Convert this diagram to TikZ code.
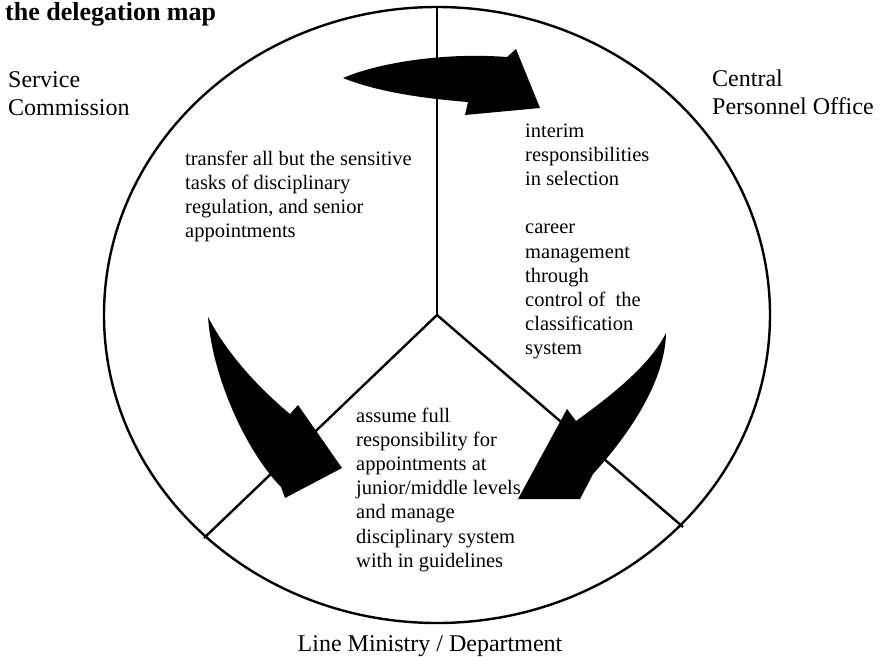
\documentclass[tikz,border=0pt]{standalone}
\usepackage{fontspec}
\setmainfont{Liberation Serif}
\begin{document}
\begin{tikzpicture}[x=1pt,y=-1pt,
  ring/.style={line width=2.4pt},
  spoke/.style={line width=2.4pt},
  bigarrow/.style={fill=black,draw=none},
  heading/.style={font=\bfseries\fontsize{26}{30}\selectfont, inner sep=0, anchor=base west},
  party/.style={font=\fontsize{24}{28}\selectfont, align=left, inner sep=0, anchor=base west},
  duty/.style={font=\fontsize{20.5}{24.2}\selectfont, align=left, inner sep=0, anchor=base west},
]
\useasboundingbox (0,0) rectangle (882,656);

% title
\node[heading] (title) at (5,20) {the delegation map};

% the ring and its three spokes
\coordinate (hub) at (437,315);
\coordinate (rimtop) at (437,7);
\coordinate (rimleft) at (204,538);
\coordinate (rimright) at (683,527);
\draw[ring] (hub) ellipse [x radius=333pt, y radius=308pt];
\draw[spoke] (hub) -- (rimtop);
\draw[spoke] (hub) -- (rimleft);
\draw[spoke] (hub) -- (rimright);

% the three parties (multi-line nodes sit on their last baseline)
\node[party] (sc) at (8,115) {Service\\Commission};
\node[party] (cpo) at (712,114) {Central\\Personnel Office};
\node[party, anchor=base] (lm) at (430,651) {Line Ministry / Department};

% what each sector does
\node[duty] (sctext) at (185,237.6) {transfer all but the sensitive\\tasks of disciplinary\\regulation, and senior\\appointments};
\node[duty] (cpotext) at (525,354.8) {interim\\responsibilities\\in selection\\[24.2pt]career\\management\\through\\control of\ \ the\\classification\\system};
\node[duty] (lmtext) at (356,567.2) {assume full\\responsibility for\\appointments at\\junior/middle levels\\and manage\\disciplinary system\\with in guidelines};

% curved block arrows
\fill[bigarrow] (343,78) .. controls (375,64) and (440,52) .. (507,57)
  -- (516,49) -- (540,108) -- (465,115) -- (468,102)
  .. controls (430,99) and (380,93) .. cycle;
\fill[bigarrow] (208,317) .. controls (212,375) and (245,450) .. (281,487)
  -- (285,498) -- (342,468) -- (298,405) -- (290,414)
  .. controls (255,385) and (225,350) .. cycle;
\fill[bigarrow] (666,333) .. controls (665,385) and (624,440) .. (593,474)
  -- (580,499) -- (518,499) -- (567,409) -- (576,421)
  .. controls (612,395) and (650,365) .. cycle;
\end{tikzpicture}
\end{document}
